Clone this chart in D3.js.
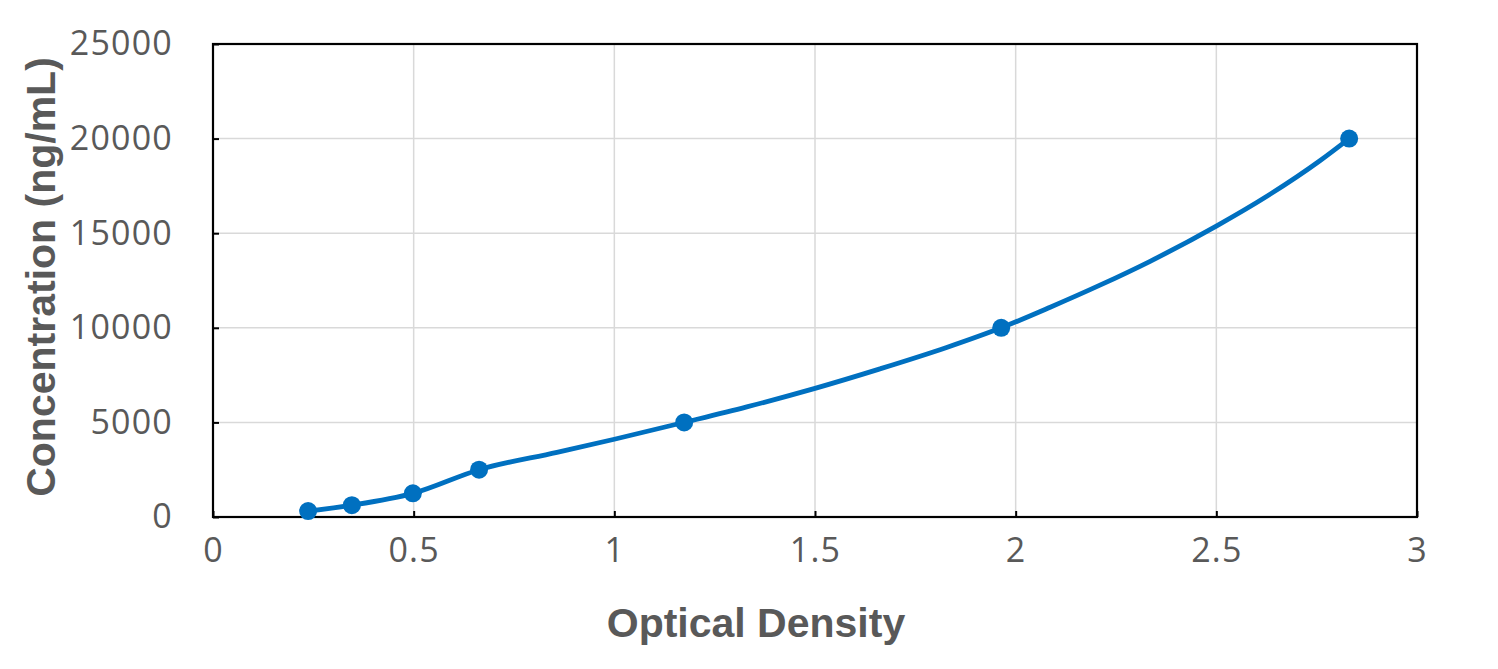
<!DOCTYPE html>
<html><head><meta charset="utf-8">
<script src="https://cdn.jsdelivr.net/npm/d3@7"></script>
<style>html,body{margin:0;padding:0;background:#fff;}</style>
</head><body>
<svg id="chart" width="1498" height="669"></svg>
<script>
// standard points
const opticalDensity = [0.237, 0.346, 0.498, 0.663, 1.174, 1.964, 2.831];
const concentration = [312.5, 625, 1250, 2500, 5000, 10000, 20000];
// fitted standard curve
const curveOD = [0.237, 0.346, 0.498, 0.663, 0.857, 1.0, 1.174, 1.330, 1.500, 1.662, 1.828, 1.964, 2.086, 2.210, 2.335, 2.501, 2.626, 2.758, 2.831];
const curveConc = [312.5, 625, 1250, 2500, 3420, 4110, 5000, 5820, 6800, 7830, 8960, 10000, 11086, 12252, 13515, 15391, 16954, 18830, 20000];
const xTickValues = [0, 0.5, 1, 1.5, 2, 2.5, 3];
const yTickValues = [0, 5000, 10000, 15000, 20000, 25000];
const xTitle = "Optical Density";
const yTitle = "Concentration (ng/mL)";

(function () {
const svg = d3.select("#chart");
const pLeft = 213, pRight = 1417, pTop = 44, pBottom = 517;
const x = d3.scaleLinear().domain([0, 3]).range([pLeft, pRight]);
const y = d3.scaleLinear().domain([0, 25000]).range([pBottom, pTop]);
const textColor = "#595959";
const fontTick = "'Open Sans', 'Liberation Sans', sans-serif";

// gridlines
svg.append("g").selectAll("line").data(xTickValues.slice(1, -1)).join("line")
  .attr("x1", d => x(d)).attr("x2", d => x(d)).attr("y1", pTop).attr("y2", pBottom)
  .attr("stroke", "#d9d9d9").attr("stroke-width", 1.5);
svg.append("g").selectAll("line").data(yTickValues.slice(1, -1)).join("line")
  .attr("y1", d => y(d)).attr("y2", d => y(d)).attr("x1", pLeft).attr("x2", pRight)
  .attr("stroke", "#d9d9d9").attr("stroke-width", 1.5);

// axes
const xAxis = d3.axisBottom(x).tickValues(xTickValues).tickSizeInner(-6).tickSizeOuter(0)
  .tickFormat(d3.format("~g")).tickPadding(22);
const yAxis = d3.axisLeft(y).tickValues(yTickValues).tickSizeInner(-6).tickSizeOuter(0)
  .tickFormat(d => String(d)).tickPadding(40);

const gx = svg.append("g").attr("transform", `translate(0,${pBottom})`).call(xAxis);
const gy = svg.append("g").attr("transform", `translate(${pLeft},0)`).call(yAxis);
[gx, gy].forEach(g => {
  g.select(".domain").remove();
  g.selectAll(".tick line").attr("stroke", "#000").attr("stroke-width", 2);
  g.selectAll(".tick text").attr("fill", textColor).attr("font-family", fontTick)
    .attr("font-size", 34).attr("letter-spacing", 1.2);
});
gx.selectAll(".tick text").attr("dy", "0.68em");

// frame
svg.append("rect").attr("x", pLeft).attr("y", pTop).attr("width", pRight - pLeft).attr("height", pBottom - pTop)
  .attr("fill", "none").attr("stroke", "#000").attr("stroke-width", 2.2);

// fitted line
const curvePts = curveOD.map((d, i) => [d, curveConc[i]]);
const line = d3.line().x(d => x(d[0])).y(d => y(d[1])).curve(d3.curveMonotoneX);
svg.append("path").datum(curvePts).attr("d", line).attr("fill", "none")
  .attr("stroke", "#0070C0").attr("stroke-width", 4.8).attr("stroke-linejoin", "round")
  .attr("stroke-linecap", "round");

// points
const pts = opticalDensity.map((d, i) => [d, concentration[i]]);
svg.append("g").selectAll("circle").data(pts).join("circle")
  .attr("cx", d => x(d[0])).attr("cy", d => y(d[1])).attr("r", 9).attr("fill", "#0070C0");

// titles
svg.append("text").attr("x", 756).attr("y", 637).attr("text-anchor", "middle")
  .attr("font-family", "'Liberation Sans', Arial, sans-serif").attr("font-weight", "bold")
  .attr("font-size", 41).attr("fill", textColor).text(xTitle);
svg.append("text").attr("transform", "translate(55,277) rotate(-90)").attr("text-anchor", "middle")
  .attr("font-family", "'Liberation Sans', Arial, sans-serif").attr("font-weight", "bold")
  .attr("font-size", 41).attr("fill", textColor).text(yTitle);
})();
</script>
</body></html>
